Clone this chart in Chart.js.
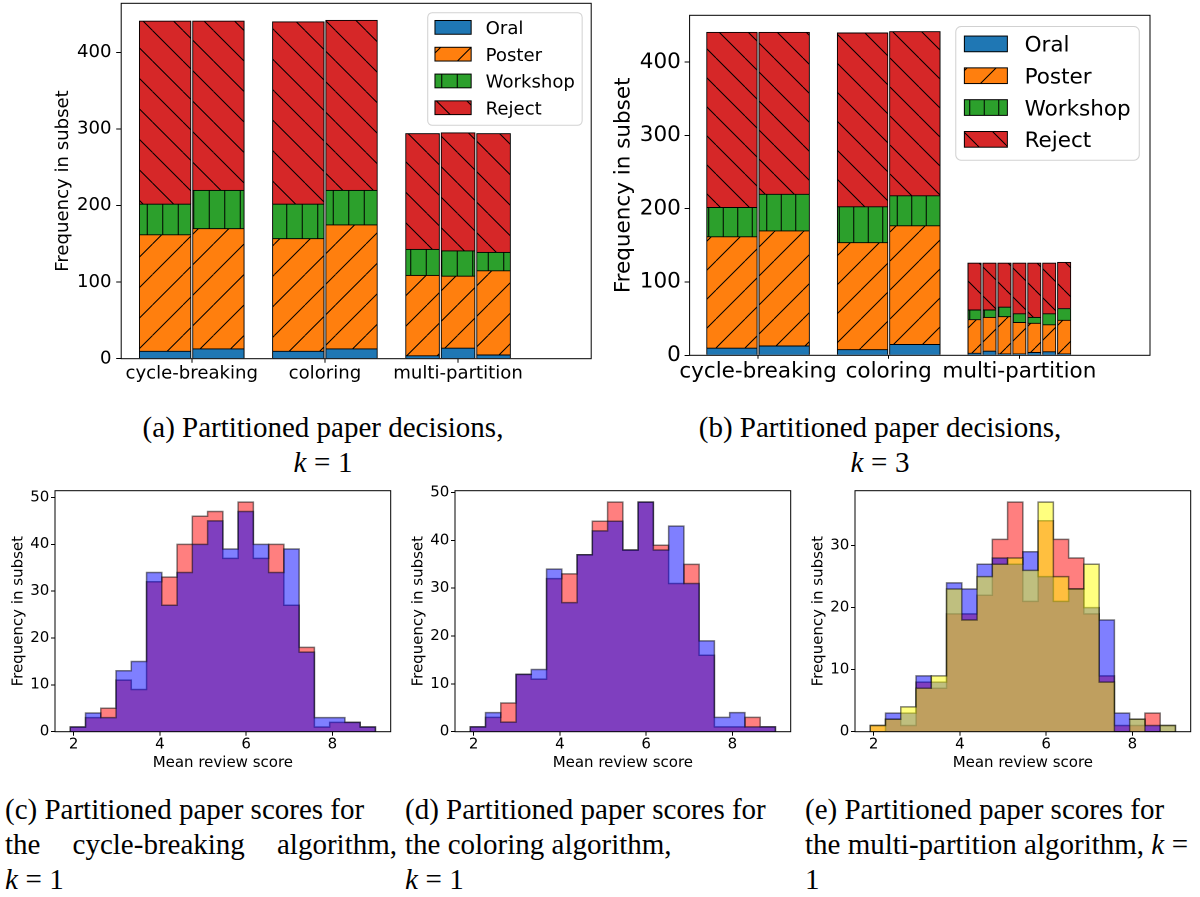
<!DOCTYPE html>
<html lang="en">
<head>
<meta charset="utf-8">
<title>Partitioned paper decisions and scores</title>
<script src="https://cdn.jsdelivr.net/npm/chart.js@4/dist/chart.umd.min.js"></script>
<style>
  html, body { margin: 0; padding: 0; background: #fff; }
  body { position: relative; width: 1200px; height: 897px; overflow: hidden; }
  .panel { position: absolute; }
  .cap { position: absolute; font-family: 'Liberation Serif', 'Times New Roman', serif;
         font-size: 29px; line-height: 35px; color: #000; white-space: nowrap; }
  .cap .spread { display: flex; justify-content: space-between; }
  .m { margin: 0 0.26em; }
</style>
</head>
<body>
<div class="panel" style="left:0;top:0;width:600px;height:395px"><canvas id="decisionsK1"></canvas></div>
<div class="panel" style="left:600px;top:0;width:600px;height:395px"><canvas id="decisionsK3"></canvas></div>
<div class="panel" style="left:0;top:480px;width:400px;height:300px"><canvas id="scoresCycle"></canvas></div>
<div class="panel" style="left:400px;top:480px;width:400px;height:300px"><canvas id="scoresColoring"></canvas></div>
<div class="panel" style="left:800px;top:480px;width:400px;height:300px"><canvas id="scoresMulti"></canvas></div>

<div class="cap" style="left:123px;top:410px;width:400px;text-align:center">(a) Partitioned paper decisions,<br><i>k</i><span class="m">=</span>1</div>
<div class="cap" style="left:680px;top:410px;width:400px;text-align:center">(b) Partitioned paper decisions,<br><i>k</i><span class="m">=</span>3</div>

<div class="cap" style="left:5px;top:792px;width:392px">
  <div>(c) Partitioned paper scores for</div>
  <div class="spread"><span>the</span><span>cycle-breaking</span><span>algorithm,</span></div>
  <div><i>k</i><span class="m">=</span>1</div>
</div>
<div class="cap" style="left:405px;top:792px;width:392px">
  <div>(d) Partitioned paper scores for</div>
  <div>the coloring algorithm,</div>
  <div><i>k</i><span class="m">=</span>1</div>
</div>
<div class="cap" style="left:805px;top:792px;width:392px">
  <div>(e) Partitioned paper scores for</div>
  <div>the multi-partition algorithm, <i>k</i><span class="m" style="margin-right:0">=</span></div>
  <div>1</div>
</div>

<script>
// ---------- decision bars (panels a and b) ----------
const categories = ['cycle-breaking', 'coloring', 'multi-partition'];
const decisions = ['Oral', 'Poster', 'Workshop', 'Reject'];
const decisionColors = ['#1f77b4', '#ff7f0e', '#2ca02c', '#d62728'];
const decisionHatches = ['', '/', '|', '\\'];
const decisionCountTicks = [0, 100, 200, 300, 400];

// k = 1: number of partitions per algorithm, then one value per partition bar
const k1Partitions = [2, 2, 3];
const k1Oral     = [10, 13, 10, 13, 4, 14, 5];
const k1Poster   = [152, 157, 147, 162, 105, 94, 110];
const k1Workshop = [40, 50, 45, 45, 34, 33, 24];
const k1Reject   = [239, 221, 238, 222, 151, 154, 155];

// k = 3
const k3Partitions = [2, 2, 7];
const k3Oral     = [10, 13, 8, 15, 3, 6, 2, 2, 4, 5, 2];
const k3Poster   = [152, 157, 146, 162, 46, 46, 51, 43, 40, 37, 46];
const k3Workshop = [40, 50, 49, 41, 13, 10, 13, 12, 8, 15, 16];
const k3Reject   = [239, 221, 237, 224, 64, 64, 60, 69, 74, 69, 63];

// ---------- review score histograms (panels c, d, e) ----------
const scoreBinEdges = [1.920, 2.274, 2.628, 2.982, 3.336, 3.690, 4.044, 4.398, 4.752, 5.106,
                       5.460, 5.814, 6.168, 6.522, 6.876, 7.230, 7.584, 7.938, 8.292, 8.646, 9.000];
const scoreTicks = [2, 4, 6, 8];
const cycleBreakingRed  = [1, 3, 5, 11, 9, 32, 33, 40, 46, 47, 37, 49, 37, 40, 27, 18, 1, 2, 2, 1];
const cycleBreakingBlue = [1, 4, 3, 13, 15, 34, 27, 34, 40, 45, 39, 47, 40, 34, 39, 17, 3, 3, 2, 1];
const coloringRed  = [1, 3, 6, 12, 11, 32, 33, 37, 44, 48, 38, 48, 39, 31, 35, 16, 1, 1, 3, 1];
const coloringBlue = [1, 4, 2, 12, 13, 34, 27, 37, 42, 44, 38, 48, 38, 43, 31, 19, 3, 4, 1, 1];
const multiRed    = [1, 2, 1, 8, 7, 19, 19, 22, 31, 37, 21, 34, 31, 28, 19, 9, 1, 1, 3, 0];
const multiBlue   = [0, 3, 3, 9, 8, 24, 23, 27, 28, 27, 29, 25, 21, 23, 20, 18, 3, 2, 1, 1];
const multiYellow = [1, 2, 4, 7, 9, 23, 18, 25, 27, 28, 26, 37, 25, 23, 27, 8, 0, 2, 0, 1];
const fiftyTicks = [0, 10, 20, 30, 40, 50];
const thirtyTicks = [0, 10, 20, 30];

Chart.defaults.font.family = "'DejaVu Sans', sans-serif";
Chart.defaults.color = '#000';

// Hatched fill, drawn at 2x so the lines stay crisp on the 2x canvas.
function hatchFill(color, hatch, lineSpacing, lineWidth) {
  if (!hatch) return color;
  const r = 2;
  const n = Math.round((hatch === '|' ? lineSpacing : 2 * lineSpacing) * r);
  const tile = document.createElement('canvas');
  tile.width = n; tile.height = n;
  const g = tile.getContext('2d');
  g.fillStyle = color;
  g.fillRect(0, 0, n, n);
  g.strokeStyle = '#000';
  g.lineWidth = lineWidth * r;
  g.beginPath();
  if (hatch === '|') {
    g.moveTo(n / 2, 0); g.lineTo(n / 2, n);
  } else {
    for (const o of [-n, 0, n]) {
      if (hatch === '/') { g.moveTo(o, n); g.lineTo(o + n, 0); }
      else { g.moveTo(o, 0); g.lineTo(o + n, n); }
    }
  }
  g.stroke();
  const p = g.createPattern(tile, 'repeat');
  p.setTransform(new DOMMatrix().scale(1 / r));
  return p;
}

// Full box around the plotting area.
const axesFrame = {
  id: 'axesFrame',
  afterDatasetsDraw(chart) {
    const { ctx, chartArea: a } = chart;
    ctx.save();
    ctx.strokeStyle = '#000';
    ctx.lineWidth = 1;
    ctx.strokeRect(a.left, a.top, a.right - a.left, a.bottom - a.top);
    ctx.restore();
  }
};

// Legend boxed in the upper right corner of the plotting area.
const decisionLegend = {
  id: 'decisionLegend',
  afterDraw(chart, args, opts) {
    if (!opts.em) return;
    const { ctx, chartArea: a } = chart;
    const em = opts.em;
    const items = [];
    chart.data.datasets.forEach(ds => {
      if (!items.find(it => it.label === ds.label)) items.push({ label: ds.label, fill: ds.backgroundColor });
    });
    ctx.save();
    ctx.font = em + "px 'DejaVu Sans'";
    const textW = Math.max(...items.map(it => ctx.measureText(it.label).width));
    const w = em * 3.6 + textW;
    const right = a.right - 0.5 * em;
    const left = right - w;
    const top = a.top + 0.52 * em;
    const step = 1.48 * em;
    const bottom = top + 0.81 * em + step * (items.length - 1) + 0.97 * em;
    ctx.beginPath();
    ctx.roundRect(left, top, w, bottom - top, 0.25 * em);
    ctx.fillStyle = 'rgba(255,255,255,0.8)';
    ctx.fill();
    ctx.strokeStyle = 'rgba(204,204,204,0.9)';
    ctx.lineWidth = 1;
    ctx.stroke();
    items.forEach((it, i) => {
      const cy = top + 0.81 * em + i * step;
      const hx = left + 0.4 * em, hw = 2 * em, hh = opts.handle * em;
      ctx.fillStyle = it.fill;
      ctx.fillRect(hx, cy - hh / 2, hw, hh);
      ctx.strokeStyle = '#000';
      ctx.strokeRect(hx, cy - hh / 2, hw, hh);
      ctx.fillStyle = '#000';
      ctx.textAlign = 'left';
      ctx.textBaseline = 'alphabetic';
      ctx.fillText(it.label, hx + hw + 0.8 * em, cy + 0.365 * em);
    });
    ctx.restore();
  }
};

function decisionChart(id, values, parts, g) {
  const fills = decisionColors.map((c, i) => hatchFill(c, decisionHatches[i], g.hatch, g.hatchWidth));
  const datasets = [];
  decisions.forEach((name, d) => {
    let bar = 0;
    parts.forEach((k, c) => {
      const slot = 0.8 / k;
      const pts = [];
      for (let j = 0; j < k; j++) pts.push({ x: c + (j - (k - 1) / 2) * slot, y: values[d][bar + j] });
      bar += k;
      datasets.push({
        label: name, data: pts, slot,
        backgroundColor: fills[d], borderColor: '#000', borderWidth: 1,
        grouped: false
      });
    });
  });
  const chart = new Chart(document.getElementById(id), {
    type: 'bar',
    data: { datasets },
    options: {
      animation: false, responsive: true, maintainAspectRatio: false, devicePixelRatio: 2,
      layout: { padding: { top: g.padTop, right: g.padRight, left: 0, bottom: 0 } },
      plugins: { legend: { display: false }, tooltip: { enabled: false },
                 decisionLegend: { em: g.font, handle: g.handle } },
      scales: {
        x: {
          type: 'linear', min: g.xMin, max: 3.0, offset: false,
          afterBuildTicks: s => { s.ticks = categories.map((_, i) => ({ value: i })); },
          ticks: { font: { size: g.font }, padding: g.xPad, maxRotation: 0, autoSkip: false,
                   callback: v => categories[v] },
          grid: { drawOnChartArea: false, tickLength: g.xTick, tickColor: '#000', offset: false },
          border: { display: false },
          afterFit: s => { s.height = g.xAxisHeight; s.paddingLeft = 0; s.paddingRight = 0; }
        },
        y: {
          min: 0, max: 464, stacked: true,
          afterBuildTicks: s => { s.ticks = decisionCountTicks.map(v => ({ value: v })); },
          ticks: { font: { size: g.font }, padding: g.yPad },
          grid: { drawOnChartArea: false, tickLength: 5, tickColor: '#000' },
          border: { display: false },
          title: { display: true, text: 'Frequency in subset', font: { size: g.font },
                   padding: { top: g.titlePad, bottom: 0 } },
          afterFit: s => { s.width = g.yAxisWidth; s.paddingTop = 0; s.paddingBottom = 0; }
        }
      }
    },
    plugins: [axesFrame, decisionLegend]
  });
  const sx = chart.scales.x;
  const unit = sx.getPixelForValue(1) - sx.getPixelForValue(0);
  chart.data.datasets.forEach(ds => { ds.barThickness = ds.slot * unit - 1.5; });
  chart.update();
  return chart;
}

decisionChart('decisionsK1', [k1Oral, k1Poster, k1Workshop, k1Reject], k1Partitions, {
  font: 18.1, hatch: 15.3, hatchWidth: 1.0, handle: 0.76, xMin: -0.53,
  padTop: 3.3, padRight: 8.8, yAxisWidth: 121.2, xAxisHeight: 36.3,
  titlePad: 52.6, xTick: 4, xPad: 0, yPad: 4.7
});
decisionChart('decisionsK3', [k3Oral, k3Poster, k3Workshop, k3Reject], k3Partitions, {
  font: 21.5, hatch: 14.6, hatchWidth: 1.0, handle: 0.73, xMin: -0.524,
  padTop: 15.3, padRight: 50, yAxisWidth: 89.6, xAxisHeight: 39.7,
  titlePad: 10.8, xTick: 3.5, xPad: 0, yPad: 3.8
});

// Step outline of a histogram: up at the first edge, across every bin, down at the last edge.
function stepOutline(counts) {
  const last = scoreBinEdges.length - 1;
  const pts = [{ x: scoreBinEdges[0], y: 0 }];
  counts.forEach((c, i) => pts.push({ x: scoreBinEdges[i], y: c }));
  pts.push({ x: scoreBinEdges[last], y: counts[counts.length - 1] });
  pts.push({ x: scoreBinEdges[last], y: 0 });
  return pts;
}

function scoreHistogram(id, series, yMax, yTicks) {
  return new Chart(document.getElementById(id), {
    type: 'line',
    data: {
      datasets: series.map((s, i) => ({
        label: s.label, data: stepOutline(s.counts), stepped: true, fill: 'origin',
        backgroundColor: s.color, borderColor: 'rgba(0,0,0,0.5)', borderWidth: 1.5,
        pointRadius: 0, order: series.length - i
      }))
    },
    options: {
      animation: false, responsive: true, maintainAspectRatio: false, devicePixelRatio: 2,
      layout: { padding: { top: 10.7, right: 9.3, left: 0, bottom: 0 } },
      plugins: { legend: { display: false }, tooltip: { enabled: false } },
      scales: {
        x: {
          type: 'linear', min: 1.566, max: 9.354,
          afterBuildTicks: s => { s.ticks = scoreTicks.map(v => ({ value: v })); },
          ticks: { font: { size: 15 }, padding: 0, maxRotation: 0 },
          grid: { drawOnChartArea: false, tickLength: 4, tickColor: '#000' },
          border: { display: false },
          title: { display: true, text: 'Mean review score', font: { size: 15 },
                   padding: { top: 0, bottom: 7.7 } },
          afterFit: s => { s.height = 48.3; s.paddingLeft = 0; s.paddingRight = 0; }
        },
        y: {
          min: 0, max: yMax,
          afterBuildTicks: s => { s.ticks = yTicks.map(v => ({ value: v })); },
          ticks: { font: { size: 15 }, padding: 1.7 },
          grid: { drawOnChartArea: false, tickLength: 4, tickColor: '#000' },
          border: { display: false },
          title: { display: true, text: 'Frequency in subset', font: { size: 15 },
                   padding: { top: 9.7, bottom: 0 } },
          afterFit: s => { s.width = 55; s.paddingTop = 0; s.paddingBottom = 0; }
        }
      }
    },
    plugins: [axesFrame]
  });
}

const RED = 'rgba(255,0,0,0.5)', BLUE = 'rgba(0,0,255,0.5)', YELLOW = 'rgba(255,255,0,0.5)';
scoreHistogram('scoresCycle', [
  { label: 'Partition 1', counts: cycleBreakingRed, color: RED },
  { label: 'Partition 2', counts: cycleBreakingBlue, color: BLUE }
], 51.45, fiftyTicks);
scoreHistogram('scoresColoring', [
  { label: 'Partition 1', counts: coloringRed, color: RED },
  { label: 'Partition 2', counts: coloringBlue, color: BLUE }
], 50.4, fiftyTicks);
scoreHistogram('scoresMulti', [
  { label: 'Partition 1', counts: multiRed, color: RED },
  { label: 'Partition 2', counts: multiBlue, color: BLUE },
  { label: 'Partition 3', counts: multiYellow, color: YELLOW }
], 38.85, thirtyTicks);
</script>
</body>
</html>
